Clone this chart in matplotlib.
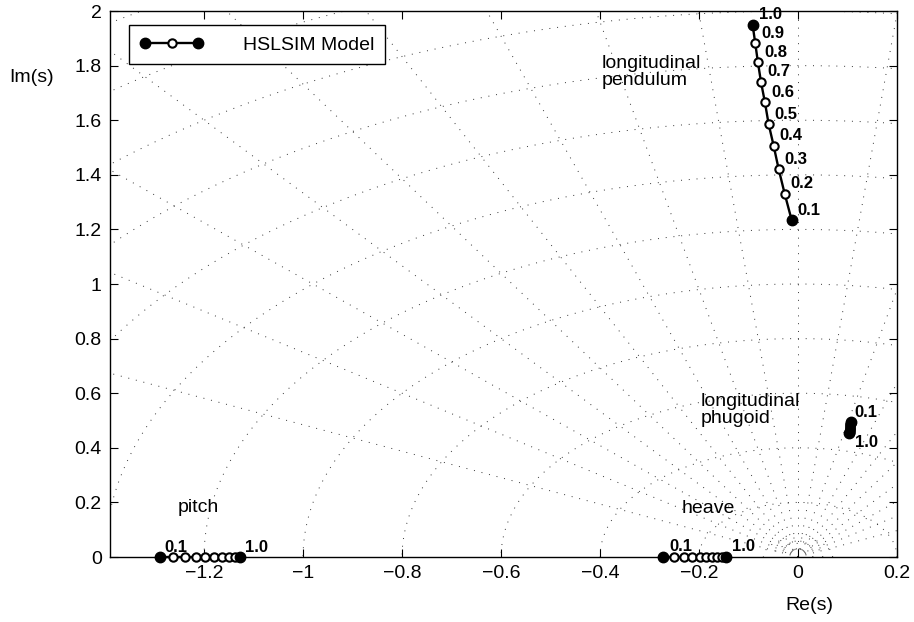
import numpy as np
import matplotlib
matplotlib.use("Agg")
import matplotlib.pyplot as plt
from matplotlib.lines import Line2D
from matplotlib.legend_handler import HandlerLine2D, HandlerTuple

plt.rcParams['font.family'] = ['Liberation Sans', 'DejaVu Sans']

# parameter values along each locus
params = ['0.1', '0.2', '0.3', '0.4', '0.5', '0.6', '0.7', '0.8', '0.9', '1.0']

# longitudinal pendulum pole (upper half plane)
pend_re = [-0.0128, -0.0270, -0.0391, -0.0493, -0.0594, -0.0668, -0.0749, -0.0810, -0.0864, -0.0917]
pend_im = [1.234, 1.331, 1.421, 1.507, 1.586, 1.665, 1.741, 1.812, 1.882, 1.949]

# longitudinal phugoid pole (unstable, barely moves)
phug_re = [0.1066, 0.1063, 0.1060, 0.1057, 0.1054, 0.1051, 0.1048, 0.1045, 0.1042, 0.1040]
phug_im = [0.496, 0.491, 0.487, 0.482, 0.477, 0.473, 0.468, 0.464, 0.459, 0.455]

# pitch and heave poles on the real axis
pitch_re = [-1.2895, -1.2632, -1.2389, -1.2173, -1.1978, -1.1802, -1.1646, -1.1504, -1.1383, -1.1269]
heave_re = [-0.2726, -0.2504, -0.2308, -0.2139, -0.1990, -0.1862, -0.1747, -0.1640, -0.1545, -0.1457]

# s-plane grid: damping ratios and natural frequencies
zetas = [0.1, 0.2, 0.3, 0.4, 0.5, 0.6, 0.7, 0.8, 0.9]
wns = [0.03, 0.05, 0.07, 0.2, 0.4, 0.6, 0.8, 1.0, 1.2, 1.4, 1.6, 1.8, 2.0, 2.2, 2.4, 2.6]

fig = plt.figure(figsize=(9.14, 6.22), dpi=100)
ax = fig.add_axes([0.1204, 0.1045, 0.861, 0.8778])

grid_kw = dict(color='0.2', lw=0.7, linestyle=(0, (1, 7)), zorder=1)
th = np.linspace(0, np.pi, 400)
for wn in wns:
    ax.plot(wn * np.cos(th), wn * np.sin(th), **grid_kw)
R = 5.0
ax.plot([0, 0], [0, R], **grid_kw)
for z in zetas:
    s = np.sqrt(1 - z ** 2)
    ax.plot([0, -z * R], [0, s * R], **grid_kw)
    ax.plot([0, z * R], [0, s * R], **grid_kw)

line_kw = dict(color='black', lw=1.7, zorder=3, clip_on=False)
open_kw = dict(ls='none', marker='o', ms=6, mfc='white', mec='black', mew=1.5,
               zorder=4, clip_on=False)
fill_kw = dict(ls='none', marker='o', ms=7.5, mfc='black', mec='black',
               zorder=5, clip_on=False)


def draw_locus(re, im):
    ax.plot(re, im, **line_kw)
    ax.plot(re[1:-1], im[1:-1], **open_kw)
    ax.plot([re[0], re[-1]], [im[0], im[-1]], **fill_kw)


zeros = [0.0] * len(params)
draw_locus(pend_re, pend_im)
draw_locus(phug_re, phug_im)
draw_locus(pitch_re, zeros)
draw_locus(heave_re, zeros)

lab_kw = dict(textcoords='offset pixels', fontsize=12, fontweight='bold',
              ha='left', va='center', zorder=6)
for x, y, p in zip(pend_re, pend_im, params):
    ax.annotate(p, (x, y), xytext=(6, 10), annotation_clip=False, **lab_kw)
ax.annotate(params[0], (phug_re[0], phug_im[0]), xytext=(4, 9), **lab_kw)
ax.annotate(params[-1], (phug_re[-1], phug_im[-1]), xytext=(6, -10), **lab_kw)
ax.annotate(params[0], (pitch_re[0], 0), xytext=(5, 10), **lab_kw)
ax.annotate(params[-1], (pitch_re[-1], 0), xytext=(5, 10), **lab_kw)
ax.annotate(params[0], (heave_re[0], 0), xytext=(6, 11), **lab_kw)
ax.annotate(params[-1], (heave_re[-1], 0), xytext=(6, 11), **lab_kw)

txt_kw = dict(fontsize=14, ha='left', va='center', linespacing=1.05, zorder=6)
ax.text(-0.397, 1.777, 'longitudinal\npendulum', **txt_kw)
ax.text(-0.197, 0.538, 'longitudinal\nphugoid', **txt_kw)
ax.text(-1.253, 0.183, 'pitch', **txt_kw)
ax.text(-0.2354, 0.178, 'heave', **txt_kw)


def tick_fmt(v, pos):
    return ('%g' % round(v, 2)).replace('-', '\u2212')


ax.set_xlim(-1.39, 0.2)
ax.set_ylim(0, 2)
ax.set_xticks([-1.2, -1.0, -0.8, -0.6, -0.4, -0.2, 0, 0.2])
ax.set_yticks(np.arange(0, 2.01, 0.2))
ax.xaxis.set_major_formatter(plt.FuncFormatter(tick_fmt))
ax.yaxis.set_major_formatter(plt.FuncFormatter(tick_fmt))
ax.tick_params(direction='in', length=6, width=0.8, labelsize=14,
               top=True, right=True, pad=6)
for sp in ax.spines.values():
    sp.set_linewidth(1.0)

fig.text(0.886, 0.026, 'Re(s)', fontsize=14, ha='center', va='center')
fig.text(0.035, 0.875, 'Im(s)', fontsize=14, ha='center', va='center')

# legend: line with filled end markers and an open middle marker
h_fill = Line2D([], [], color='black', lw=1.7, marker='o', ms=7.5, mfc='black', mec='black')
h_open = Line2D([], [], ls='none', marker='o', ms=6, mfc='white', mec='black', mew=1.5)
leg = ax.legend([(h_fill, h_open)], ['HSLSIM Model'], loc='upper left',
                bbox_to_anchor=(0.024, 0.974), borderaxespad=0,
                handler_map={tuple: HandlerTuple(ndivide=1),
                             h_open: HandlerLine2D(numpoints=1)},
                numpoints=2, handlelength=3.3, handletextpad=2.0,
                fontsize=14, fancybox=False, framealpha=1,
                edgecolor='black', borderpad=0.55)
leg.get_frame().set_linewidth(1.0)
leg.set_zorder(10)

fig.savefig('out.png', dpi=100)
